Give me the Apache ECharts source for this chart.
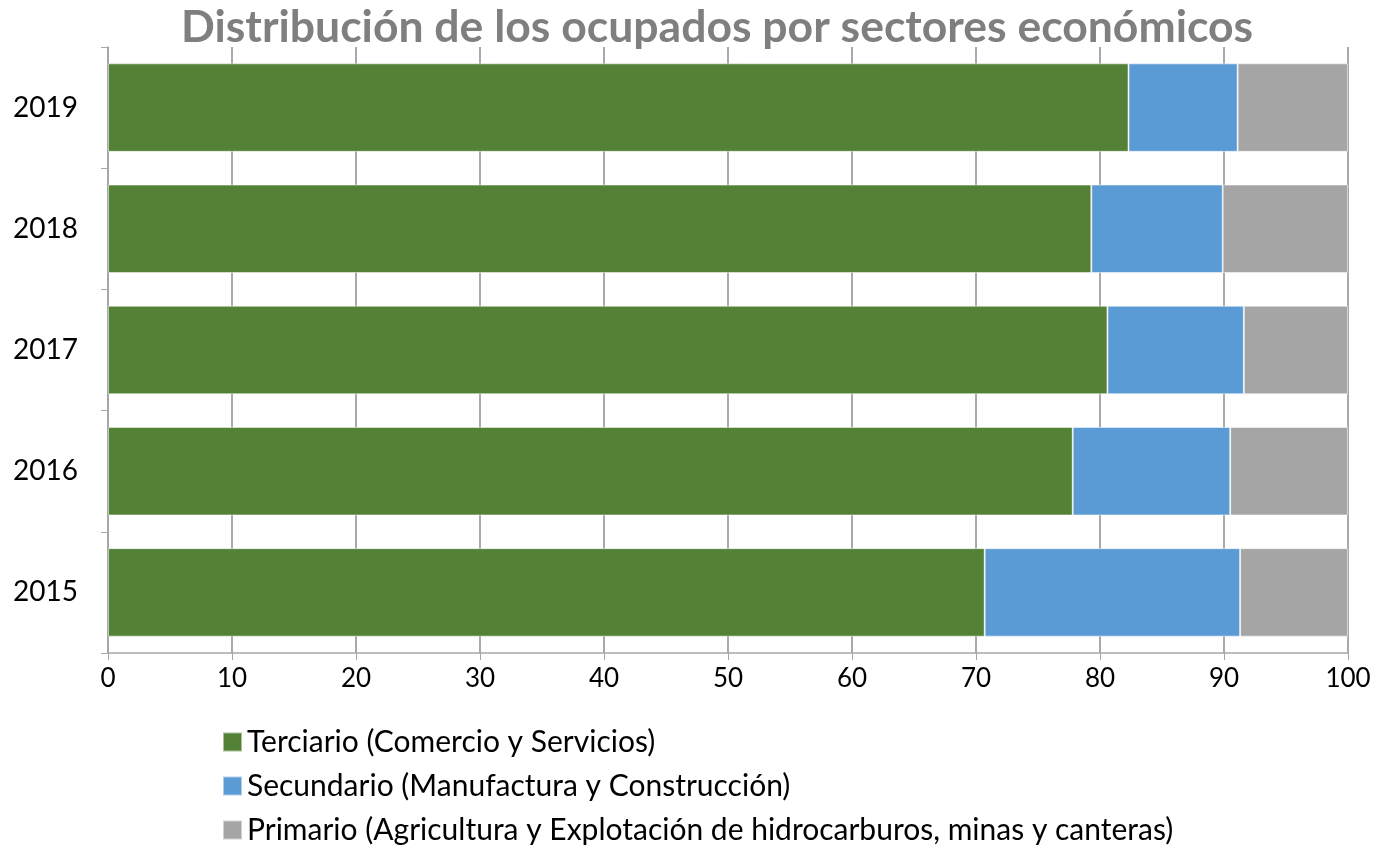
<!DOCTYPE html>
<html>
<head>
<meta charset="utf-8">
<script src="https://cdn.jsdelivr.net/npm/echarts@6/dist/echarts.min.js"></script>
<style>
  html, body { margin: 0; padding: 0; background: #fff; }
  #chart { width: 1378px; height: 846px; }
</style>
</head>
<body>
<div id="chart"></div>
<script>
// años (de abajo hacia arriba)
const years = ['2015', '2016', '2017', '2018', '2019'];
const terciario = [70.7, 77.8, 80.6, 79.3, 82.3];
const secundario = [20.6, 12.7, 11.0, 10.6, 8.8];
const primario = [8.7, 9.5, 8.4, 10.1, 8.9];
const xTicks = [0, 10, 20, 30, 40, 50, 60, 70, 80, 90, 100];

const names = [
  'Terciario (Comercio y Servicios)',
  'Secundario (Manufactura y Construcción)',
  'Primario (Agricultura y Explotación de hidrocarburos, minas y canteras)'
];

const chart = echarts.init(document.getElementById('chart'));

function bar (name, data, color) {
  return {
    name: name,
    type: 'bar',
    stack: 'total',
    barCategoryGap: '27%',
    itemStyle: { color: color, borderColor: 'rgba(255,255,255,0.5)', borderWidth: 1 },
    emphasis: { disabled: true },
    data: data
  };
}

chart.setOption({
  animation: false,
  textStyle: { fontFamily: 'Lato, "Open Sans", sans-serif' },
  title: {
    text: 'Distribución de los ocupados por sectores económicos',
    left: 176,
    top: 0,
    textStyle: { color: '#7f7f7f', fontSize: 44.5, fontWeight: 'bold', fontFamily: 'Lato, sans-serif' }
  },
  legend: {
    orient: 'vertical',
    left: 217,
    top: 722,
    height: 140,
    itemWidth: 19,
    itemHeight: 19,
    itemGap: 14,
    icon: 'rect',
    textStyle: { fontSize: 30, color: '#000', fontFamily: 'Lato, sans-serif' },
    data: names
  },
  grid: { left: 108, right: 30, top: 47, bottom: 193 },
  xAxis: {
    type: 'value',
    min: 0,
    max: 100,
    interval: 10,
    axisLine: { show: true, lineStyle: { color: '#a6a6a6', width: 1.5 } },
    axisTick: { show: true, length: 7, lineStyle: { color: '#a6a6a6' } },
    splitLine: { show: true, lineStyle: { color: '#8c8c8c', width: 1.5 } },
    axisLabel: {
      fontSize: 26,
      color: '#000',
      margin: 13,
      fontFamily: 'Lato, sans-serif',
      formatter: v => xTicks.includes(v) ? String(v) : ''
    }
  },
  yAxis: {
    type: 'category',
    data: years,
    axisLine: { show: true, lineStyle: { color: '#a6a6a6', width: 1.5 } },
    axisTick: { show: true, length: 7, lineStyle: { color: '#a6a6a6' } },
    axisLabel: { fontSize: 28, color: '#000', margin: 30, fontFamily: 'Lato, sans-serif' }
  },
  series: [
    bar(names[0], terciario, '#538135'),
    bar(names[1], secundario, '#5b9bd5'),
    bar(names[2], primario, '#a5a5a5')
  ]
});
</script>
</body>
</html>
